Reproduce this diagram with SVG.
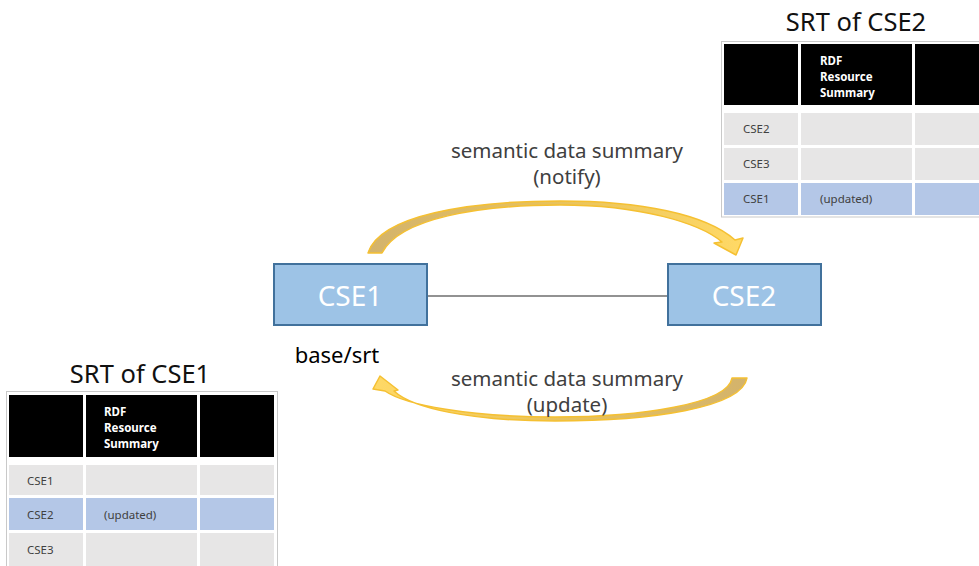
<svg xmlns="http://www.w3.org/2000/svg" width="979" height="566" viewBox="0 0 979 566">
<defs>
<style>
.node rect.box{fill:#9dc3e6;stroke:#41719c;stroke-width:2}
.node text.lbl{font-family:"Noto Sans","Open Sans",sans-serif;font-size:28px;fill:#ffffff;text-anchor:middle}
.hd{fill:#000000}
.gr{fill:#e7e6e6}
.hl{fill:#b4c7e7}
.border{fill:none;stroke:#c9c9c9;stroke-width:1}
.ht{font-family:"Noto Sans","Open Sans",sans-serif;font-size:11.5px;font-weight:bold;fill:#ffffff}
.ct{font-family:"Noto Sans","Open Sans",sans-serif;font-size:11.5px;fill:#404040}
.title{font-family:"Noto Sans","Open Sans",sans-serif;font-size:25.5px;fill:#111111;text-anchor:middle}
.note{font-family:"Noto Sans","Open Sans",sans-serif;font-size:20.5px;fill:#404040;text-anchor:middle}
.arrow{stroke:#f5c032;stroke-width:1.5;stroke-linejoin:round}
</style>
<linearGradient id="gTop" gradientUnits="userSpaceOnUse" x1="368" y1="0" x2="743" y2="0">
<stop offset="0" stop-color="#d3b36c"/>
<stop offset="0.5" stop-color="#e8c25c"/>
<stop offset="1" stop-color="#ffd966"/>
</linearGradient>
<linearGradient id="gBot" gradientUnits="userSpaceOnUse" x1="747" y1="0" x2="372" y2="0">
<stop offset="0" stop-color="#d3b36c"/>
<stop offset="0.5" stop-color="#e8c25c"/>
<stop offset="1" stop-color="#ffd966"/>
</linearGradient>
</defs>
<rect width="979" height="566" fill="#ffffff"/>

<g id="connectors">
<line x1="427" y1="296" x2="668" y2="296" stroke="#262626" stroke-width="1.2"/>
<path class="arrow" fill="url(#gTop)" d="M 368 253 C 380 215 470 201 560 201 C 640 201 706 214 735 240 L 743 238 L 736 255 L 714 243 L 722 242 C 700 223 640 205 560 205 C 480 205 400 218 382 253 Z"/>
<path class="arrow" fill="url(#gBot)" d="M 747 378 C 742 408 650 421 555 421 C 470 421 412 408 394 391 L 398 390 L 380 376 L 373 389 L 385 391 C 405 405 470 417 555 417 C 640 417 728 404 732 378 Z"/>
<text class="note" x="567" y="158">semantic data summary</text>
<text class="note" x="567" y="184">(notify)</text>
<text class="note" x="567" y="386">semantic data summary</text>
<text class="note" x="567" y="412">(update)</text>
</g>

<g id="cse1" class="node">
<rect class="box" x="274" y="264" width="153" height="61"/>
<text class="lbl" x="350" y="306">CSE1</text>
<text x="337" y="363" font-family="Noto Sans, Open Sans, sans-serif" font-size="22" fill="#000000" text-anchor="middle">base/srt</text>
</g>

<g id="cse2" class="node">
<rect class="box" x="668" y="264" width="153" height="61"/>
<text class="lbl" x="744" y="306">CSE2</text>
</g>

<g id="srt-cse2">
<text class="title" x="856" y="31">SRT of CSE2</text>
<rect class="border" x="721.5" y="41.5" width="262" height="175.5"/>
<rect class="hd" x="724" y="44" width="74" height="61"/>
<rect class="hd" x="801" y="44" width="111" height="61"/>
<rect class="hd" x="915" y="44" width="70" height="61"/>
<text class="ht" x="820" y="65">RDF</text>
<text class="ht" x="820" y="81">Resource</text>
<text class="ht" x="820" y="97">Summary</text>
<rect class="gr" x="724" y="113" width="74" height="32"/>
<rect class="gr" x="801" y="113" width="111" height="32"/>
<rect class="gr" x="915" y="113" width="70" height="32"/>
<rect class="gr" x="724" y="148" width="74" height="32"/>
<rect class="gr" x="801" y="148" width="111" height="32"/>
<rect class="gr" x="915" y="148" width="70" height="32"/>
<rect class="hl" x="724" y="183" width="74" height="32"/>
<rect class="hl" x="801" y="183" width="111" height="32"/>
<rect class="hl" x="915" y="183" width="70" height="32"/>
<text class="ct" x="743" y="133">CSE2</text>
<text class="ct" x="743" y="168">CSE3</text>
<text class="ct" x="743" y="203">CSE1</text>
<text class="ct" x="820" y="203">(updated)</text>
</g>

<g id="srt-cse1">
<text class="title" x="140" y="383">SRT of CSE1</text>
<rect class="border" x="6.5" y="391.5" width="271" height="180"/>
<rect class="hd" x="9" y="395" width="74" height="62"/>
<rect class="hd" x="86" y="395" width="111" height="62"/>
<rect class="hd" x="200" y="395" width="74" height="62"/>
<text class="ht" x="104" y="416">RDF</text>
<text class="ht" x="104" y="432">Resource</text>
<text class="ht" x="104" y="448">Summary</text>
<rect class="gr" x="9" y="465" width="74" height="30"/>
<rect class="gr" x="86" y="465" width="111" height="30"/>
<rect class="gr" x="200" y="465" width="74" height="30"/>
<rect class="hl" x="9" y="498" width="74" height="32"/>
<rect class="hl" x="86" y="498" width="111" height="32"/>
<rect class="hl" x="200" y="498" width="74" height="32"/>
<rect class="gr" x="9" y="533" width="74" height="36"/>
<rect class="gr" x="86" y="533" width="111" height="36"/>
<rect class="gr" x="200" y="533" width="74" height="36"/>
<text class="ct" x="27" y="485">CSE1</text>
<text class="ct" x="27" y="519">CSE2</text>
<text class="ct" x="104" y="519">(updated)</text>
<text class="ct" x="27" y="554">CSE3</text>
</g>
</svg>
